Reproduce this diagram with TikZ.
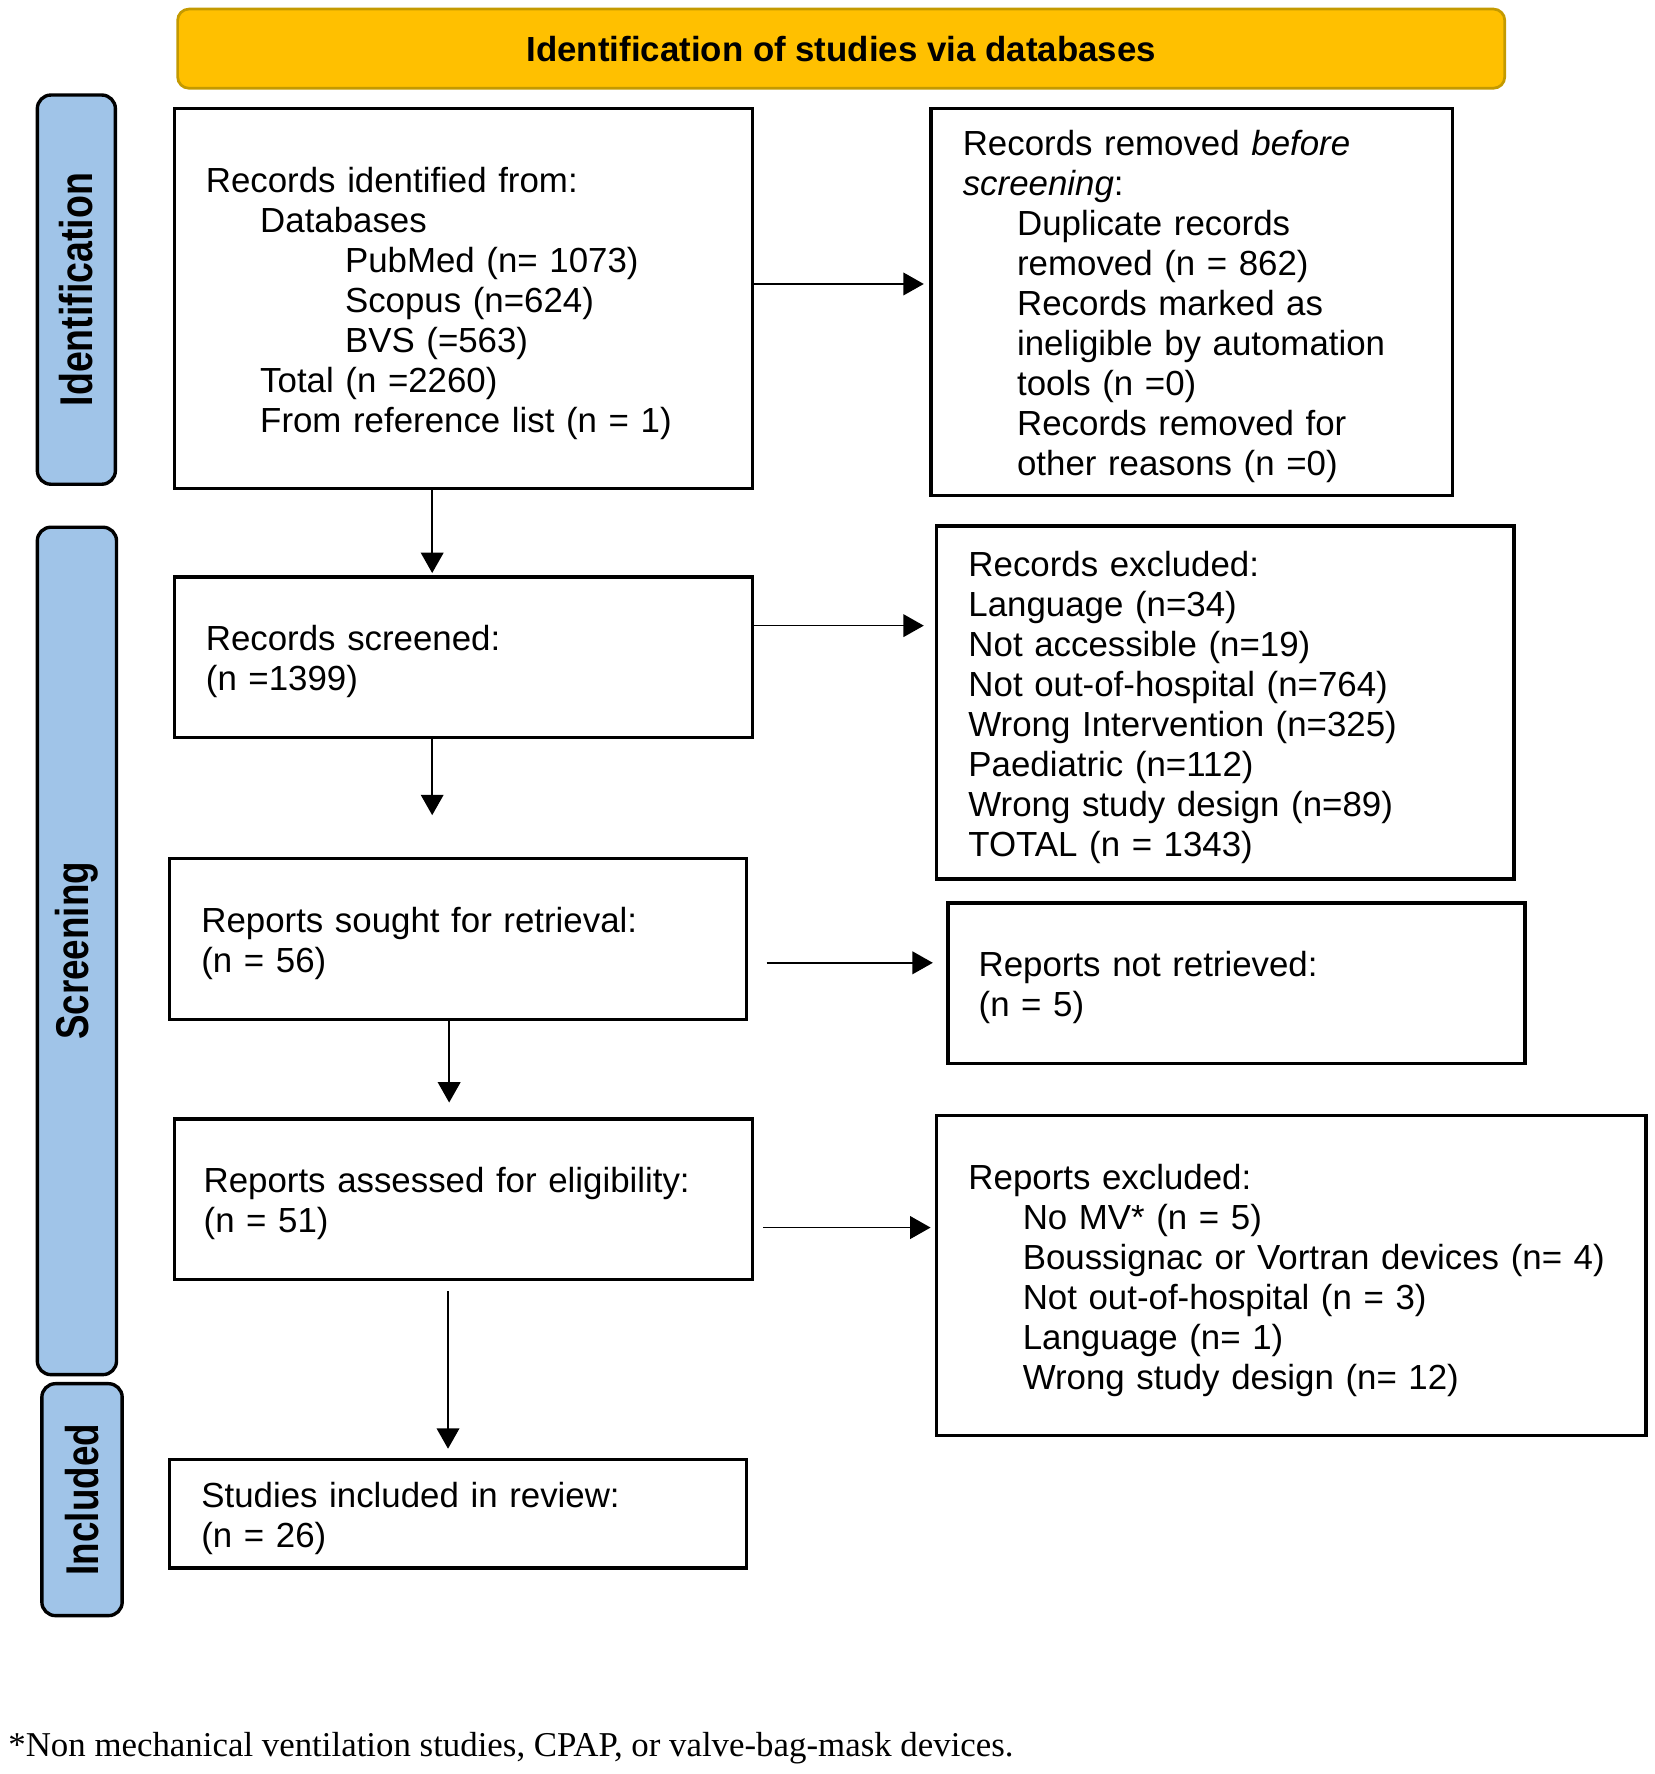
\documentclass[tikz,border=0pt]{standalone}
\usepackage{fontspec}
\setmainfont{Liberation Sans}
\newfontfamily\timesfont{Liberation Serif}
\usetikzlibrary{arrows.meta,calc}
\definecolor{titlefill}{RGB}{255,192,0}
\definecolor{titledraw}{RGB}{196,154,0}
\definecolor{sidefill}{RGB}{160,196,232}
\newcommand\indA{\hspace*{24pt}}
\newcommand\indB{\hspace*{61.5pt}}
\begin{document}
\begin{tikzpicture}[x=0.5pt,y=-0.5pt,
  bodyfont/.style={font=\fontsize{15.4pt}{17.7pt}\selectfont},
  box/.style={draw,line width=1.5pt,rectangle,inner xsep=14pt,inner ysep=0pt,align=left,bodyfont,
    execute at begin node={\rule{0pt}{15.2pt}}},
  sidebar/.style={draw,line width=1.5pt,fill=sidefill,rounded corners=6pt,rotate=90,inner sep=0pt,
    font=\bfseries\fontsize{16.25pt}{18pt}\selectfont},
  titlebox/.style={draw=titledraw,line width=1.2pt,fill=titlefill,rounded corners=5pt,inner sep=0pt,
    font=\bfseries\fontsize{15.4pt}{17.7pt}\selectfont},
  arr/.style={-{Triangle[length=9pt,width=10pt]},line width=0.7pt}]
\useasboundingbox (0,0) rectangle (1462,1568);

% title
\node[titlebox,minimum width=586.5pt,minimum height=35pt] (title) at (743.5,43) {Identification of studies via databases};

% side bars
\node[sidebar,minimum width=172pt,minimum height=34.5pt] (sideid) at (67.5,256) {\scalebox{1.02}[1.25]{Identification}};
\node[sidebar,minimum width=374.5pt,minimum height=35pt] (sidescr) at (68,840.5) {\scalebox{1}[1.25]{Screening}};
\node[sidebar,minimum width=102.5pt,minimum height=35.5pt] (sideinc) at (72.5,1325.5) {\scalebox{1}[1.25]{Included}};

% boxes
\node[box,minimum width=255.5pt,minimum height=168pt,text width=227.5pt] (b1) at (409.5,264)
 {Records identified from:\\
  \indA Databases\\
  \indB PubMed (n= 1073)\\
  \indB Scopus (n=624)\\
  \indB BVS (=563)\\
  \indA Total (n =2260)\\
  \indA From reference list (n = 1)};

\node[box,minimum width=230.5pt,minimum height=171pt,text width=202.5pt] (b2) at (1053.5,267)
 {Records removed \textit{before}\\
  \textit{screening}:\\
  \indA Duplicate records\\
  \indA removed (n = 862)\\
  \indA Records marked as\\
  \indA ineligible by automation\\
  \indA tools (n =0)\\
  \indA Records removed for\\
  \indA other reasons (n =0)};

\node[box,minimum width=255.5pt,minimum height=71pt,text width=227.5pt] (b3) at (409.5,581)
 {Records screened:\\(n =1399)};

\node[box,minimum width=255pt,minimum height=156pt,text width=227pt] (b4) at (1083,621)
 {Records excluded:\\
  Language (n=34)\\
  Not accessible (n=19)\\
  Not out-of-hospital (n=764)\\
  Wrong Intervention (n=325)\\
  Paediatric (n=112)\\
  Wrong study design (n=89)\\
  TOTAL (n = 1343)};

\node[box,minimum width=255pt,minimum height=71pt,text width=227pt] (b5) at (405,830)
 {Reports sought for retrieval:\\(n = 56)};

\node[box,minimum width=255pt,minimum height=71pt,text width=228pt,inner xsep=13pt] (b6) at (1093,869)
 {Reports not retrieved:\\(n = 5)};

\node[box,minimum width=255.5pt,minimum height=71pt,text width=229.5pt,inner xsep=13pt] (b7) at (409.5,1060)
 {Reports assessed for eligibility:\\(n = 51)};

\node[box,minimum width=313.5pt,minimum height=141.5pt,text width=285.5pt] (b8) at (1141.5,1127.5)
 {Reports excluded:\\
  \indA No MV* (n = 5)\\
  \indA Boussignac or Vortran devices (n= 4)\\
  \indA Not out-of-hospital (n = 3)\\
  \indA Language (n= 1)\\
  \indA Wrong study design (n= 12)};

\node[box,minimum width=255pt,minimum height=48pt,text width=227pt] (b9) at (405,1338)
 {Studies included in review:\\(n = 26)};

% footnote
\node[anchor=west,inner sep=0pt,font=\timesfont\fontsize{15.4pt}{17.7pt}\selectfont] (fn) at (7,1545)
 {*Non mechanical ventilation studies, CPAP, or valve-bag-mask devices.};

% horizontal connectors
\coordinate (h1) at ([yshift=6.5pt]b1.east);
\draw[arr,shorten >=2.5pt] (h1) -- (h1 -| b2.west);
\coordinate (h2) at ([yshift=14pt]b3.east);
\draw[arr,shorten >=5pt] (h2) -- (h2 -| b4.west);
\coordinate (h3) at ([yshift=-10.5pt]b5.east);
\draw[arr,shorten <=8pt,shorten >=6pt] (h3) -- (h3 -| b6.west);
\coordinate (h4) at ([yshift=-12.5pt]b7.east);
\draw[arr,shorten <=4pt,shorten >=2pt] (h4) -- (h4 -| b8.west);

% vertical connectors
\coordinate (v1) at ([xshift=-13.75pt]b1.south);
\draw[arr,shorten >=1pt] (v1) -- (v1 |- b3.north);
\coordinate (v2) at ([xshift=-13.75pt]b3.south);
\draw[arr,shorten >=18.5pt] (v2) -- (v2 |- b5.north);
\coordinate (v3) at ([xshift=-4pt]b5.south);
\draw[arr,shorten >=6.5pt] (v3) -- (v3 |- b7.north);
\coordinate (v4) at ([xshift=-6.75pt]b7.south);
\draw[arr,shorten <=4.5pt,shorten >=4pt] (v4) -- (v4 |- b9.north);
\end{tikzpicture}
\end{document}
